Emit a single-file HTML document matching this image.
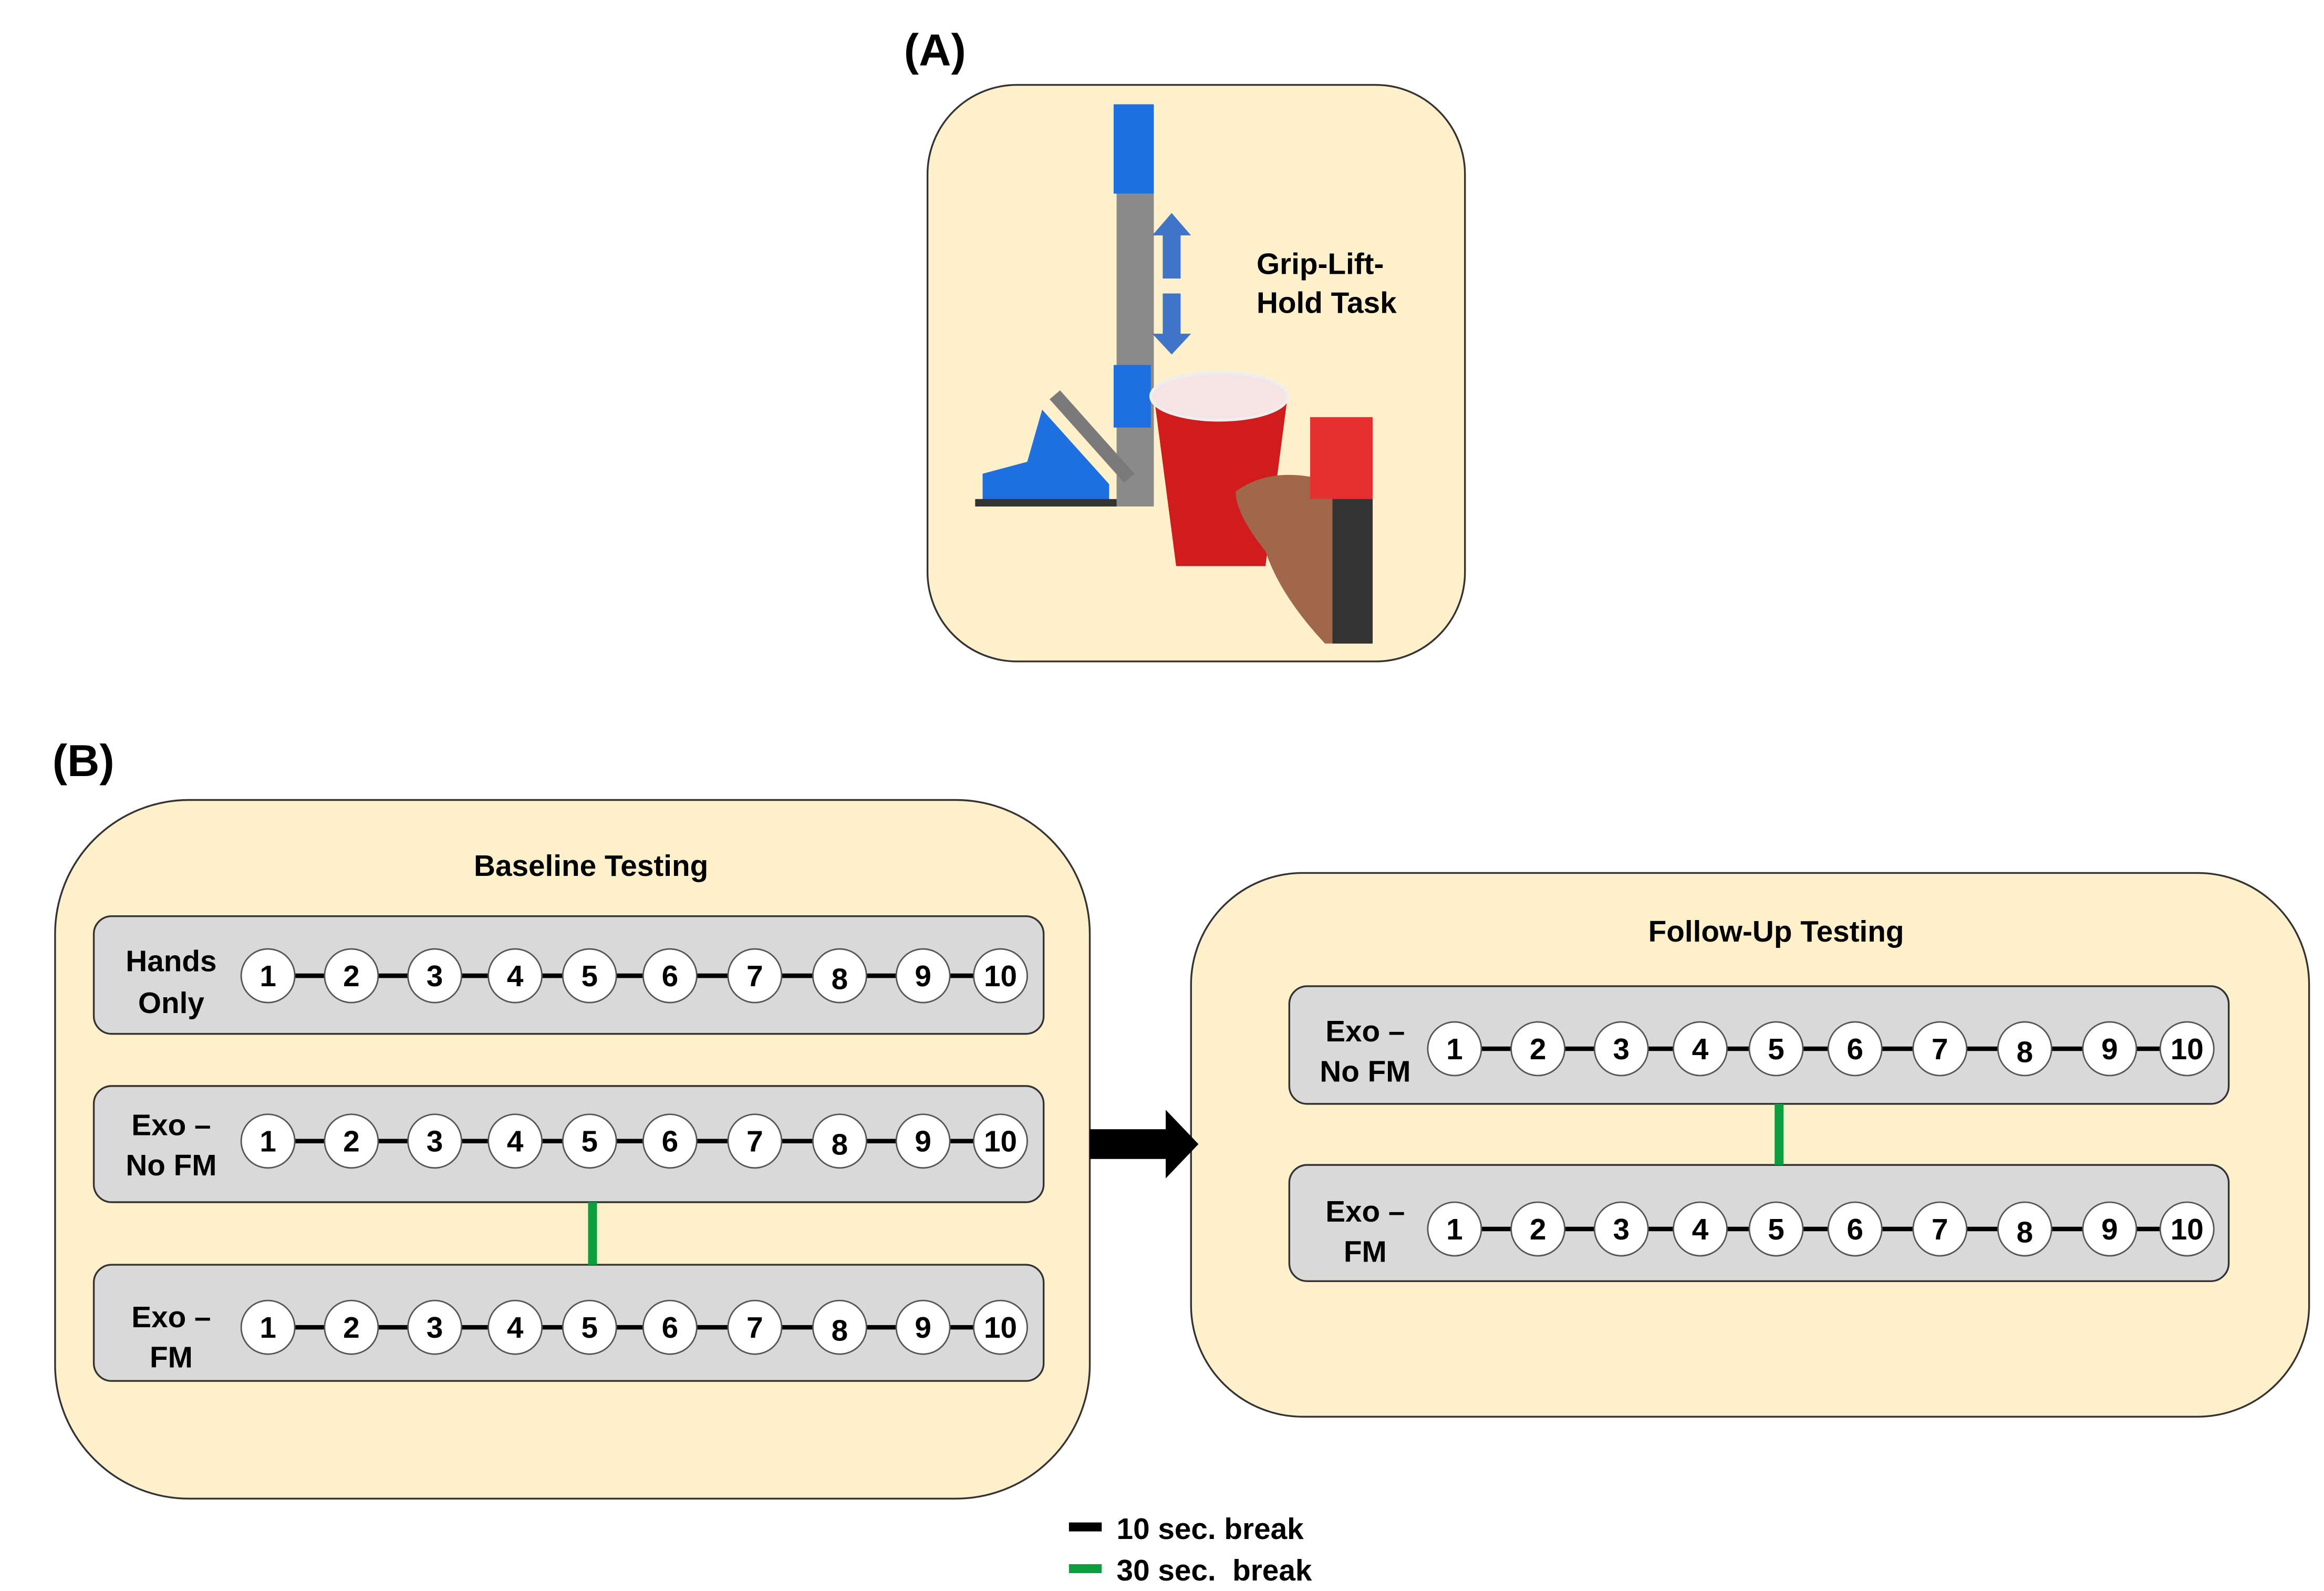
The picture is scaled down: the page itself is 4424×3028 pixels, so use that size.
<!DOCTYPE html>
<html><head><meta charset="utf-8"><style>html,body{margin:0;padding:0;background:#fff}svg{display:block}</style></head><body>
<svg width="4424" height="3028" viewBox="0 0 1561 1068" preserveAspectRatio="none" xmlns="http://www.w3.org/2000/svg" font-family="Liberation Sans, sans-serif" font-weight="bold">
<text x="628" y="44" font-size="30" text-anchor="middle">(A)</text>
<rect x="623" y="57" width="361" height="387" rx="60" fill="#fef0cb" stroke="#333" stroke-width="1.2"/>
<rect x="750" y="130" width="25" height="210" fill="#8a8a8a"/>
<rect x="748" y="70" width="27" height="60" fill="#1e6fe0"/>
<rect x="748" y="245" width="25" height="42" fill="#1e6fe0"/>
<polygon points="705,268 712,262 762,318 755,324" fill="#7a7a7a"/>
<polygon points="700,275 745,325 745,338 660,338 660,318 690,310" fill="#1e6fe0"/>
<rect x="655" y="335" width="95" height="5" fill="#333"/>
<polygon points="787,143 800,158 793,158 793,187 781,187 781,158 774,158" fill="#3f74c9"/>
<polygon points="787,238 800,224 793,224 793,197 781,197 781,224 774,224" fill="#3f74c9"/>
<text x="844" y="184" font-size="20">Grip-Lift-</text>
<text x="844" y="210" font-size="20">Hold Task</text>
<polygon points="775,265 865,265 850,380 790,380" fill="#d01c1c"/>
<ellipse cx="819" cy="266" rx="46" ry="16" fill="#f6e4e4" stroke="#eee" stroke-width="2"/>
<path d="M830,330 Q850,315 880,320 L922,300 L922,432 L890,432 Q860,400 850,370 Q830,345 830,330 Z" fill="#a0674a"/>
<rect x="880" y="280" width="42" height="55" fill="#e53030"/>
<rect x="895" y="335" width="27" height="97" fill="#333"/>
<text x="56" y="521" font-size="30" text-anchor="middle">(B)</text>
<rect x="37" y="537" width="695" height="469" rx="90" fill="#fef0cb" stroke="#333" stroke-width="1.2"/>
<text x="397" y="588" font-size="20" text-anchor="middle">Baseline Testing</text>
<rect x="800" y="586" width="751" height="365" rx="75" fill="#fef0cb" stroke="#333" stroke-width="1.2"/>
<text x="1193" y="632" font-size="20" text-anchor="middle">Follow-Up Testing</text>
<g stroke="#333" stroke-width="1.2" fill="#d9d9d9">
<rect x="63" y="615" width="638" height="79" rx="12"/>
<rect x="63" y="729" width="638" height="78" rx="12"/>
<rect x="63" y="849" width="638" height="78" rx="12"/>
<rect x="866" y="662" width="631" height="79" rx="12"/>
<rect x="866" y="782" width="631" height="78" rx="12"/>
</g>
<g font-size="20" text-anchor="middle">
<text x="115" y="652">Hands</text><text x="115" y="680">Only</text>
<text x="115" y="762">Exo –</text><text x="115" y="789">No FM</text>
<text x="115" y="891">Exo –</text><text x="115" y="918">FM</text>
<text x="917" y="699">Exo –</text><text x="917" y="726">No FM</text>
<text x="917" y="820">Exo –</text><text x="917" y="847">FM</text>
</g>
<g stroke="#0a9e3e" stroke-width="6">
<line x1="398" y1="807" x2="398" y2="849"/>
<line x1="1195" y1="741" x2="1195" y2="782"/>
</g>
<polygon points="732,758 783,758 783,745 805,768 783,791 783,778 732,778" fill="#000"/>
<rect x="718" y="1022" width="22" height="6" fill="#000"/>
<rect x="718" y="1050" width="22" height="6" fill="#0a9e3e"/>
<text x="750" y="1033" font-size="20">10 sec. break</text>
<text x="750" y="1061" font-size="20" xml:space="preserve">30 sec.  break</text>
<g stroke="#000" stroke-width="3">
<line x1="180" y1="655" x2="672" y2="655"/>
<line x1="180" y1="766" x2="672" y2="766"/>
<line x1="180" y1="891" x2="672" y2="891"/>
<line x1="977" y1="704" x2="1469" y2="704"/>
<line x1="977" y1="825" x2="1469" y2="825"/>
</g>
<g fill="#fff" stroke="#555" stroke-width="1">
<g id="c1">
<circle cx="180" cy="655" r="18"/><circle cx="236" cy="655" r="18"/><circle cx="292" cy="655" r="18"/><circle cx="346" cy="655" r="18"/><circle cx="396" cy="655" r="18"/><circle cx="450" cy="655" r="18"/><circle cx="507" cy="655" r="18"/><circle cx="564" cy="655" r="18"/><circle cx="620" cy="655" r="18"/><circle cx="672" cy="655" r="18"/>
</g>
<use href="#c1" y="111"/><use href="#c1" y="236"/>
<g id="c2">
<circle cx="977" cy="704" r="18"/><circle cx="1033" cy="704" r="18"/><circle cx="1089" cy="704" r="18"/><circle cx="1142" cy="704" r="18"/><circle cx="1193" cy="704" r="18"/><circle cx="1246" cy="704" r="18"/><circle cx="1303" cy="704" r="18"/><circle cx="1360" cy="704" r="18"/><circle cx="1417" cy="704" r="18"/><circle cx="1469" cy="704" r="18"/>
</g>
<use href="#c2" y="121"/>
</g>
<g font-size="20" text-anchor="middle">
<g>
<text x="180" y="662">1</text><text x="236" y="662">2</text><text x="292" y="662">3</text><text x="346" y="662">4</text><text x="396" y="662">5</text><text x="450" y="662">6</text><text x="507" y="662">7</text><text x="564" y="664">8</text><text x="620" y="662">9</text><text x="672" y="662">10</text>
</g>
<g>
<text x="180" y="773">1</text><text x="236" y="773">2</text><text x="292" y="773">3</text><text x="346" y="773">4</text><text x="396" y="773">5</text><text x="450" y="773">6</text><text x="507" y="773">7</text><text x="564" y="775">8</text><text x="620" y="773">9</text><text x="672" y="773">10</text>
</g>
<g>
<text x="180" y="898">1</text><text x="236" y="898">2</text><text x="292" y="898">3</text><text x="346" y="898">4</text><text x="396" y="898">5</text><text x="450" y="898">6</text><text x="507" y="898">7</text><text x="564" y="900">8</text><text x="620" y="898">9</text><text x="672" y="898">10</text>
</g>
<g>
<text x="977" y="711">1</text><text x="1033" y="711">2</text><text x="1089" y="711">3</text><text x="1142" y="711">4</text><text x="1193" y="711">5</text><text x="1246" y="711">6</text><text x="1303" y="711">7</text><text x="1360" y="713">8</text><text x="1417" y="711">9</text><text x="1469" y="711">10</text>
</g>
<g>
<text x="977" y="832">1</text><text x="1033" y="832">2</text><text x="1089" y="832">3</text><text x="1142" y="832">4</text><text x="1193" y="832">5</text><text x="1246" y="832">6</text><text x="1303" y="832">7</text><text x="1360" y="834">8</text><text x="1417" y="832">9</text><text x="1469" y="832">10</text>
</g>
</g>
</svg>
</body></html>
